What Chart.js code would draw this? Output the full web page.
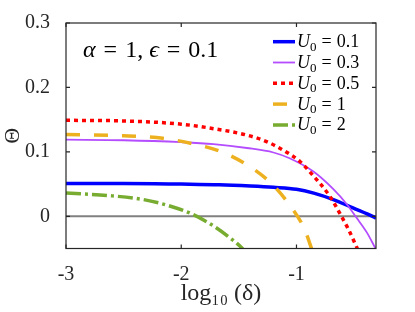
<!DOCTYPE html>
<html>
<head>
<meta charset="utf-8">
<script src="https://cdn.jsdelivr.net/npm/chart.js@4.4.0/dist/chart.umd.min.js"></script>
<style>
    html, body { margin: 0; padding: 0; background: #fff; }
    #wrap { width: 415px; height: 312px; }
</style>
</head>
<body>
<div id="wrap"><canvas id="thetaChart" width="415" height="312"></canvas></div>
<script>
// Axis ticks
const xTicks = [-3, -2, -1];
const yTicks = [0, 0.1, 0.2, 0.3];

// U0 values shown in the legend
const u0Labels = ['0.1', '0.3', '0.5', '1', '2'];

// Theta against log10(delta)
const xU01 = [-3, -2.5, -2, -1.67, -1.4, -1.2, -1.0, -0.85, -0.68, -0.51, -0.33, -0.31];
const yU01 = [0.051, 0.051, 0.050, 0.049, 0.047, 0.045, 0.042, 0.036, 0.026, 0.013, -0.001, -0.003];

const xU03 = [-3, -2.5, -2, -1.72, -1.43, -1.2, -1.06, -0.85, -0.68, -0.56, -0.48, -0.39, -0.32, -0.29];
const yU03 = [0.119, 0.118, 0.115, 0.112, 0.106, 0.099, 0.090, 0.069, 0.042, 0.018, -0.002, -0.025, -0.048, -0.058];

const xU05 = [-3, -2.5, -2, -1.72, -1.43, -1.26, -1.1, -0.97, -0.85, -0.71, -0.61, -0.55, -0.49, -0.46];
const yU05 = [0.149, 0.148, 0.143, 0.136, 0.126, 0.116, 0.101, 0.085, 0.062, 0.031, 0.0, -0.020, -0.043, -0.055];

const xU1 = [-3, -2.5, -2.16, -1.91, -1.65, -1.44, -1.23, -1.07, -0.93, -0.86];
const yU1 = [0.127, 0.125, 0.121, 0.113, 0.100, 0.081, 0.053, 0.020, -0.020, -0.055];

const xU2 = [-3, -2.62, -2.33, -2.1, -1.9, -1.72, -1.58, -1.48, -1.44];
const yU2 = [0.036, 0.032, 0.026, 0.016, 0.003, -0.015, -0.033, -0.048, -0.056];

// Reference line at Theta = 0
const xZero = [-3, -0.31];
const yZero = [0, 0];

const toPoints = (xs, ys) => xs.map((x, i) => ({ x, y: ys[i] }));

const SERIF = 'Liberation Serif';

const series = [
    { xs: xU01, ys: yU01, color: '#0000ff', width: 3.5, dash: [], order: 5 },
    { xs: xU03, ys: yU03, color: '#b44cff', width: 1.8, dash: [], order: 4 },
    { xs: xU05, ys: yU05, color: '#ff0000', width: 3.5, dash: [4, 4], order: 3 },
    { xs: xU1, ys: yU1, color: '#edb120', width: 3.5, dash: [14, 14], order: 2 },
    { xs: xU2, ys: yU2, color: '#77ac30', width: 3.5, dash: [15, 4, 3, 4], order: 1 }
];

const datasets = series.map((s, idx) => ({
    label: 'U0 = ' + u0Labels[idx],
    u0: u0Labels[idx],
    data: toPoints(s.xs, s.ys),
    borderColor: s.color,
    backgroundColor: s.color,
    borderWidth: s.width,
    borderDash: s.dash,
    pointRadius: 0,
    cubicInterpolationMode: 'monotone',
    order: s.order
}));

datasets.push({
    label: 'zero',
    data: toPoints(xZero, yZero),
    borderColor: '#808080',
    borderWidth: 2,
    pointRadius: 0,
    order: 6,
    isRef: true
});

// draws a run of text pieces (italic / subscript / gaps) left to right
function drawRuns(ctx, x, y, runs, size) {
    runs.forEach(r => {
        if (r.gap) { x += r.gap; return; }
        const fs = r.sub ? Math.round(size * 0.7) : size;
        ctx.font = (r.italic ? 'italic ' : '') + fs + 'px ' + SERIF;
        ctx.fillText(r.t, x, y + (r.sub ? size * 0.2 : 0));
        x += ctx.measureText(r.t).width;
    });
}

const decorations = {
    id: 'decorations',
    afterDatasetsDraw(chart) {
        const { ctx, chartArea: a, scales: { x, y } } = chart;
        ctx.save();
        ctx.strokeStyle = '#262626';
        ctx.lineWidth = 1.2;
        ctx.strokeRect(a.left, a.top, a.right - a.left, a.bottom - a.top);
        ctx.beginPath();
        xTicks.forEach(v => {
            const px = x.getPixelForValue(v);
            ctx.moveTo(px, a.bottom); ctx.lineTo(px, a.bottom - 4);
            ctx.moveTo(px, a.top); ctx.lineTo(px, a.top + 4);
        });
        yTicks.forEach(v => {
            const py = y.getPixelForValue(v);
            ctx.moveTo(a.left, py); ctx.lineTo(a.left + 4, py);
            ctx.moveTo(a.right, py); ctx.lineTo(a.right - 4, py);
        });
        ctx.stroke();
        ctx.restore();
    },
    afterDraw(chart) {
        const { ctx } = chart;
        ctx.save();
        ctx.fillStyle = '#000';
        ctx.textBaseline = 'alphabetic';
        ctx.textAlign = 'left';

        // parameter annotation
        drawRuns(ctx, 83, 57, [
            { t: 'α', italic: true }, { gap: 8 }, { t: '=' }, { gap: 8 }, { t: '1,' },
            { gap: 6 }, { t: 'ϵ', italic: true }, { gap: 8 }, { t: '=' }, { gap: 8 }, { t: '0.1' }
        ], 24);

        // legend inside the axes
        const rowY = 41.7, rowStep = 20.8;
        chart.data.datasets.filter(d => !d.isRef).forEach((d, i) => {
            const ly = rowY + i * rowStep;
            ctx.save();
            ctx.strokeStyle = d.borderColor;
            ctx.lineWidth = d.borderWidth;
            ctx.setLineDash(d.borderDash || []);
            ctx.beginPath();
            ctx.moveTo(273, ly);
            ctx.lineTo(295, ly);
            ctx.stroke();
            ctx.restore();
            drawRuns(ctx, 297, ly + 5.5, [
                { t: 'U', italic: true }, { t: '0', sub: true }, { gap: 5 },
                { t: '=' }, { gap: 5 }, { t: d.u0 }
            ], 18);
        });
        ctx.restore();
    }
};

new Chart(document.getElementById('thetaChart'), {
    type: 'line',
    data: { datasets },
    plugins: [decorations],
    options: {
        responsive: false,
        animation: false,
        devicePixelRatio: 1,
        layout: { padding: { top: 23, right: 39, left: 0, bottom: 0 } },
        plugins: { legend: { display: false }, tooltip: { enabled: false } },
        scales: {
            x: {
                type: 'linear',
                min: -3,
                max: -0.31,
                afterBuildTicks: s => { s.ticks = xTicks.map(v => ({ value: v })); },
                afterFit: s => { s.height = 63.5; },
                ticks: {
                    callback: v => String(v),
                    color: '#262626',
                    font: { family: SERIF, size: 20 },
                    padding: 6,
                    maxRotation: 0
                },
                grid: { display: false },
                border: { display: false },
                title: {
                    display: true,
                    text: 'log₁₀ (δ)',
                    color: '#262626',
                    font: { family: SERIF, size: 24 },
                    padding: { top: 0, bottom: 4 }
                }
            },
            y: {
                min: -0.05,
                max: 0.3,
                afterBuildTicks: s => { s.ticks = yTicks.map(v => ({ value: v })); },
                afterFit: s => { s.width = 66; },
                ticks: {
                    callback: v => String(v),
                    color: '#262626',
                    font: { family: SERIF, size: 20 },
                    padding: 8
                },
                grid: { display: false },
                border: { display: false },
                title: {
                    display: true,
                    text: 'Θ',
                    color: '#262626',
                    font: { family: SERIF, size: 22 },
                    padding: { top: 0, bottom: 0 }
                }
            }
        }
    }
});
</script>
</body>
</html>
